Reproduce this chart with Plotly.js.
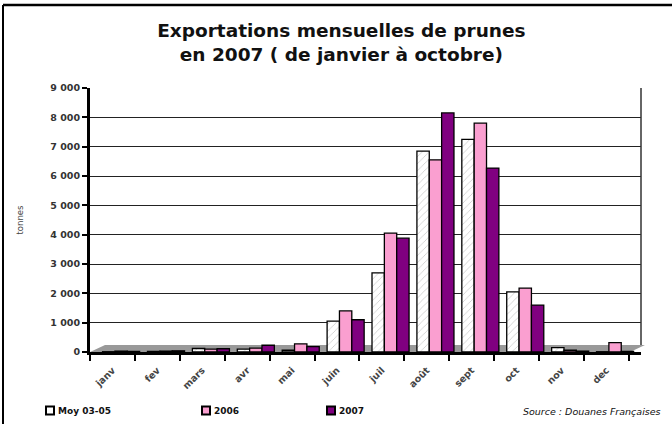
<!DOCTYPE html>
<html>
<head>
<meta charset="utf-8">
<script src="https://cdn.plot.ly/plotly-3.0.1.min.js"></script>
<style>html,body{margin:0;padding:0;background:#fff;}#chart{width:672px;height:424px;}</style>
</head>
<body>
<div id="chart"></div>
<script>
var months = ["janv", "fev", "mars", "avr", "mai", "juin", "juil", "août", "sept", "oct", "nov", "dec"];
var moy0305 = [10, 20, 120, 100, 60, 1050, 2700, 6850, 7250, 2050, 150, 10];
var y2006 = [30, 30, 100, 130, 280, 1400, 4050, 6550, 7800, 2180, 60, 320];
var y2007 = [20, 40, 110, 230, 180, 1100, 3880, 8150, 6270, 1600, 30, 20];
var seriesNames = ["Moy 03-05", "2006", "2007"];
var seriesColors = ["#ffffff", "#fa9fd0", "#800080"];
var yTicks = [0, 1000, 2000, 3000, 4000, 5000, 6000, 7000, 8000, 9000];

var W = 672, H = 424, L = 90, R = 31, T = 88, B = 72;
var pw = W - L - R, ph = H - T - B;
function px(x) { return (x - L) / pw; }
function py(y) { return (H - B - y) / ph; }

var bw = 0.275;
var traces = [
  {type: "bar", name: seriesNames[0], x: months, y: moy0305, width: bw, offset: -0.22,
   marker: {color: seriesColors[0], line: {color: "#000", width: 1.3},
            pattern: {shape: "/", fgcolor: "#c8c8c8", bgcolor: "#ffffff", size: 5, solidity: 0.15}}},
  {type: "bar", name: seriesNames[1], x: months, y: y2006, width: bw, offset: 0.055,
   marker: {color: seriesColors[1], line: {color: "#000", width: 1.3}}},
  {type: "bar", name: seriesNames[2], x: months, y: y2007, width: bw, offset: 0.33,
   marker: {color: seriesColors[2], line: {color: "#000", width: 1.3}}}
];

var legX = [46, 202, 327];
var shapes = [
  {type: "path", xref: "paper", yref: "paper", layer: "below",
   path: "M " + px(90) + "," + py(352) + " L " + px(630) + "," + py(352) + " L " + px(645) + "," + py(345) + " L " + px(105) + "," + py(345) + " Z",
   fillcolor: "#999", line: {width: 0}},
  {type: "line", xref: "paper", yref: "paper", x0: 1, x1: 1, y0: py(345), y1: 1,
   line: {color: "#333", width: 1.5}},
  {type: "line", xref: "paper", yref: "paper", x0: px(3), x1: px(672), y0: py(5), y1: py(5),
   line: {color: "#000", width: 2.5}},
  {type: "line", xref: "paper", yref: "paper", x0: px(3), x1: px(3), y0: py(5), y1: py(424),
   line: {color: "#000", width: 2}}
];
var annotations = [
  {text: "Source : Douanes Françaises", xref: "paper", yref: "paper", x: px(663), y: py(411),
   xanchor: "right", yanchor: "middle", showarrow: false,
   font: {family: "DejaVu Sans", size: 9.5, color: "#111", style: "italic"}}
];
for (var i = 0; i < seriesNames.length; i++) {
  shapes.push({type: "rect", xref: "paper", yref: "paper",
    x0: px(legX[i]), x1: px(legX[i] + 8), y0: py(414.5), y1: py(406.5),
    fillcolor: seriesColors[i], line: {color: "#000", width: 2}});
  annotations.push({text: seriesNames[i], xref: "paper", yref: "paper",
    x: px(legX[i] + 10), y: py(410.5), xanchor: "left", yanchor: "middle", showarrow: false,
    font: {family: "DejaVu Sans", size: 9, color: "#111", weight: "bold"}});
}

var layout = {
  width: W, height: H,
  margin: {l: L, r: R, t: T, b: B, pad: 0},
  paper_bgcolor: "#fff", plot_bgcolor: "#fff",
  separators: ", ",
  barmode: "overlay",
  showlegend: false,
  title: {text: "Exportations mensuelles de prunes<br>en 2007 ( de janvier à octobre)",
          font: {family: "DejaVu Sans", size: 18.5, color: "#111", weight: "bold"},
          x: 0.508, xref: "container", xanchor: "center", y: 1 - 37 / H, yanchor: "middle"},
  xaxis: {type: "category", range: [-0.5, 11.77], showgrid: false, zeroline: false,
          showline: true, linecolor: "#000", linewidth: 3,
          ticks: "outside", tickson: "boundaries", ticklen: 6, tickwidth: 2, tickcolor: "#000",
          ticklabelstandoff: 6,
          tickangle: -45, tickfont: {family: "DejaVu Sans", size: 9.5, color: "#444", weight: "bold"}},
  yaxis: {range: [0, 9000], tickvals: yTicks, tickformat: ",d",
          showgrid: true, gridcolor: "#222", gridwidth: 1, zeroline: false,
          showline: true, linecolor: "#000", linewidth: 3,
          ticks: "outside", ticklen: 5, tickwidth: 2, tickcolor: "#000",
          tickfont: {family: "DejaVu Sans", size: 9.5, color: "#333", weight: "bold"},
          title: {text: "tonnes", font: {family: "DejaVu Sans", size: 8.5, color: "#444"}, standoff: 26}},
  annotations: annotations,
  shapes: shapes
};

Plotly.newPlot("chart", traces, layout, {displayModeBar: false, staticPlot: true});
</script>
</body>
</html>
